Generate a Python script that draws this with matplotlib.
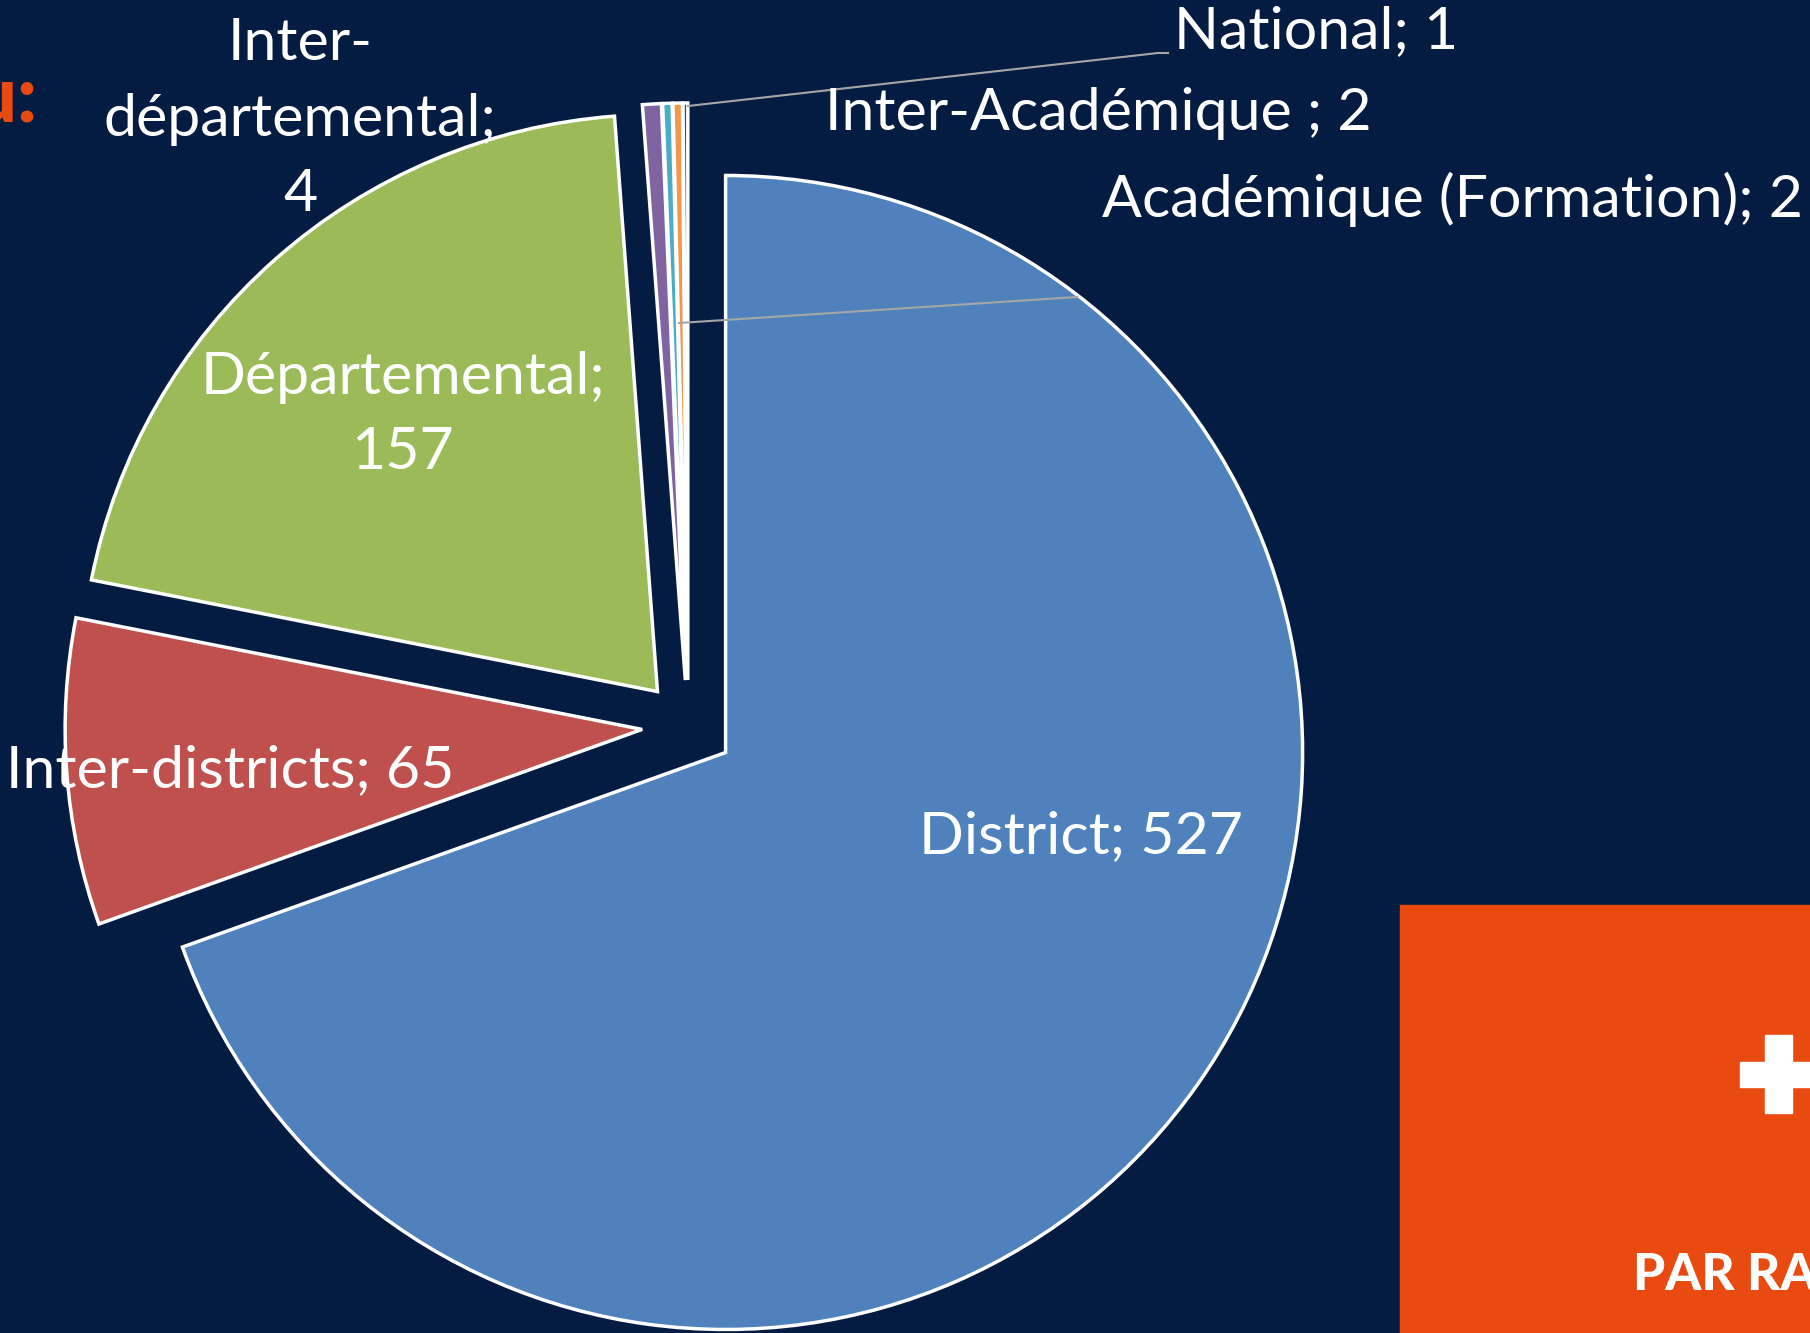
import matplotlib.pyplot as plt
from matplotlib.patches import Rectangle

W, H = 1810, 1333
BG = '#041c42'

categories = ['District', 'Inter-districts', 'Départemental', 'Inter-départemental',
              'Inter-Académique', 'Académique (Formation)', 'National']
values = [527, 65, 157, 4, 2, 2, 1]
colors = ['#4f81bd', '#c0504d', '#9bbb59', '#8064a2', '#4bacc6', '#f79646', '#2c4d75']
label_texts = ['District; 527', 'Inter-districts; 65', 'Départemental;\n157',
               'Inter-\ndépartemental;\n4', 'Inter-Académique ; 2',
               'Académique (Formation); 2', 'National; 1']

plt.rcParams['font.family'] = ['Lato', 'DejaVu Sans']

fig = plt.figure(figsize=(W / 100, H / 100), dpi=100)
fig.patch.set_facecolor(BG)
ax = fig.add_axes([0, 0, 1, 1])
ax.set_facecolor(BG)

def Y(y):
    # image row -> data y
    return H - y

R = 577
ax.pie(values, colors=colors, startangle=90, counterclock=False,
       center=(688, Y(726)), radius=R, explode=[46] * len(values),
       wedgeprops=dict(edgecolor='white', linewidth=2.5), frame=True)
ax.set_xlim(0, W)
ax.set_ylim(0, H)
ax.set_aspect('equal')
ax.axis('off')

# leader lines
ax.plot([1168, 1158, 688], [Y(53), Y(53), Y(106)], color='#a6a6a6', lw=1.5)
ax.plot([1077, 679], [Y(297), Y(323)], color='#a6a6a6', lw=1.5)

fs = 42.5
pos = {
    'District; 527': (1081, 837, 'center'),
    'Inter-districts; 65': (6, 771, 'left'),
    'Départemental;\n157': (403, 415, 'center'),
    'Inter-\ndépartemental;\n4': (300, 119, 'center'),
    'Inter-Académique ; 2': (825, 113, 'left'),
    'Académique (Formation); 2': (1102, 199, 'left'),
    'National; 1': (1174, 32, 'left'),
}
for t in label_texts:
    x, y, ha = pos[t]
    ax.text(x, Y(y), t, color='white', fontsize=fs, ha=ha, va='center',
            linespacing=1.53)

# orange block bottom right
ax.add_patch(Rectangle((1400, 0), W - 1400, Y(905), color='#e84a10', zorder=5))
ax.add_patch(Rectangle((1765, Y(1113)), 27, 78, color='white', zorder=6))
ax.add_patch(Rectangle((1740, Y(1087)), 80, 25, color='white', zorder=6))
ax.text(1633, Y(1290), 'PAR RA', color='white', fontsize=37, fontweight='black',
        ha='left', va='baseline', zorder=6)

# cut-off title fragment top-left
ax.text(37, Y(122), 'u:', color='#e84a10', fontsize=56, fontweight='black',
        ha='right', va='baseline')

fig.savefig('out.png', dpi=100, facecolor=BG)
